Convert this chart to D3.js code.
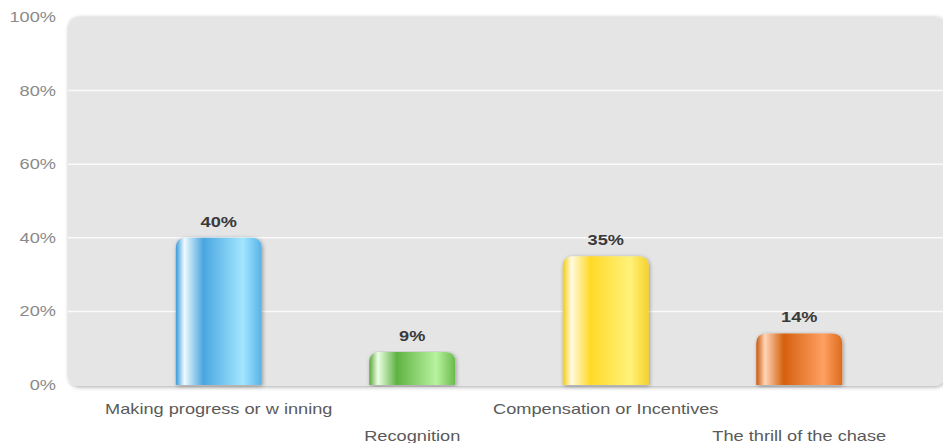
<!DOCTYPE html>
<html>
<head>
<meta charset="utf-8">
<script src="https://cdn.jsdelivr.net/npm/d3@7"></script>
<style>
  body { margin: 0; background: #fff; }
  svg { display: block; font-family: "Liberation Sans", Arial, sans-serif; }
</style>
</head>
<body>
<div id="chart"></div>
<script>
// Chart data
const categories = ["Making progress or w inning", "Recognition", "Compensation or Incentives", "The thrill of the chase"]
const values = [40, 9, 35, 14]
const tickValues = [0, 20, 40, 60, 80, 100]
const barColors = [
  ["#3a9ad8", "#eefaff", "#4aa6e0", "#a2e6ff", "#58b2e6"],
  ["#5ba63c", "#ecffe4", "#5fb343", "#b8f29e", "#6aba4c"],
  ["#f2cc10", "#fffbe2", "#ffd928", "#fff27a", "#f5d22c"],
  ["#cc560a", "#ffd6b8", "#d5600e", "#ffa062", "#dc6c1c"]
]

const width = 943, height = 443
const plot = { left: 68, top: 17, right: 945, bottom: 386 }
// the original picture is stretched sideways, text included
const stretch = 1.3

const svg = d3.select("#chart").append("svg")
  .attr("width", width)
  .attr("height", height)

const defs = svg.append("defs")

const shadow = defs.append("filter").attr("id", "shadow")
  .attr("x", "-5%").attr("y", "-5%").attr("width", "110%").attr("height", "110%")
shadow.append("feGaussianBlur").attr("in", "SourceAlpha").attr("stdDeviation", 2)
shadow.append("feOffset").attr("dx", 1).attr("dy", 1).attr("result", "b")
shadow.append("feComponentTransfer").append("feFuncA").attr("type", "linear").attr("slope", 0.35)
const merge = shadow.append("feMerge")
merge.append("feMergeNode")
merge.append("feMergeNode").attr("in", "SourceGraphic")

barColors.forEach((c, i) => {
  const g = defs.append("linearGradient").attr("id", "bar" + i)
    .attr("x1", "0%").attr("x2", "100%").attr("y1", "0%").attr("y2", "0%")
  const stops = [0, 0.1, 0.32, 0.78, 1]
  stops.forEach((o, j) => g.append("stop").attr("offset", o).attr("stop-color", c[j]))
})

// Scales
const y = d3.scaleLinear().domain([0, 100]).range([385, 17])
const x = d3.scaleBand().domain(categories).range([122, 896]).paddingInner(0.556).paddingOuter(0.278)

// Plot background
svg.append("rect")
  .attr("x", plot.left).attr("y", plot.top)
  .attr("width", plot.right - plot.left).attr("height", plot.bottom - plot.top)
  .attr("rx", 10)
  .attr("fill", "#e5e5e5")
  .attr("filter", "url(#shadow)")

// Grid
svg.append("g")
  .selectAll("line")
  .data(tickValues.filter(d => d > 0 && d < 100))
  .join("line")
  .attr("x1", plot.left).attr("x2", width)
  .attr("y1", d => y(d)).attr("y2", d => y(d))
  .attr("stroke", "#fafafa").attr("stroke-width", 1.5)

// Y axis labels
const yAxis = svg.append("g")
  .attr("transform", `translate(${plot.left - 12},0)`)
  .call(d3.axisLeft(y).tickValues(tickValues).tickFormat(d => d + "%").tickSize(0))
yAxis.select(".domain").remove()
yAxis.selectAll("text")
  .attr("x", 0)
  .attr("transform", `scale(${stretch},1)`)
  .style("font-size", "14px")
  .style("fill", "#8a8a8a")
  .style("font-family", "'Liberation Sans', Arial, sans-serif")

// Bars with rounded tops
const r = 10
function barPath(d) {
  const x0 = x(d.cat), w = x.bandwidth(), y0 = y(d.val), y1 = y(0)
  return `M${x0},${y1} L${x0},${y0 + r} Q${x0},${y0} ${x0 + r},${y0} L${x0 + w - r},${y0} Q${x0 + w},${y0} ${x0 + w},${y0 + r} L${x0 + w},${y1} Z`
}

const data = categories.map((c, i) => ({ cat: c, val: values[i], i }))

svg.append("g")
  .selectAll("path")
  .data(data)
  .join("path")
  .attr("d", barPath)
  .attr("fill", d => `url(#bar${d.i})`)
  .attr("filter", "url(#shadow)")

// Value labels
svg.append("g")
  .selectAll("text")
  .data(data)
  .join("text")
  .attr("transform", d => `translate(${x(d.cat) + x.bandwidth() / 2},${y(d.val) - 11}) scale(${stretch},1)`)
  .attr("text-anchor", "middle")
  .style("font-size", "14px")
  .style("font-weight", "bold")
  .style("fill", "#3a3a3a")
  .text(d => d.val + "%")

// Category labels (staggered)
svg.append("g")
  .selectAll("text")
  .data(data)
  .join("text")
  .attr("transform", d => `translate(${x(d.cat) + x.bandwidth() / 2},${d.i % 2 === 0 ? 414 : 441}) scale(${stretch},1)`)
  .attr("text-anchor", "middle")
  .style("font-size", "14px")
  .style("fill", "#5a5a5a")
  .text(d => d.cat)
</script>
</body>
</html>
